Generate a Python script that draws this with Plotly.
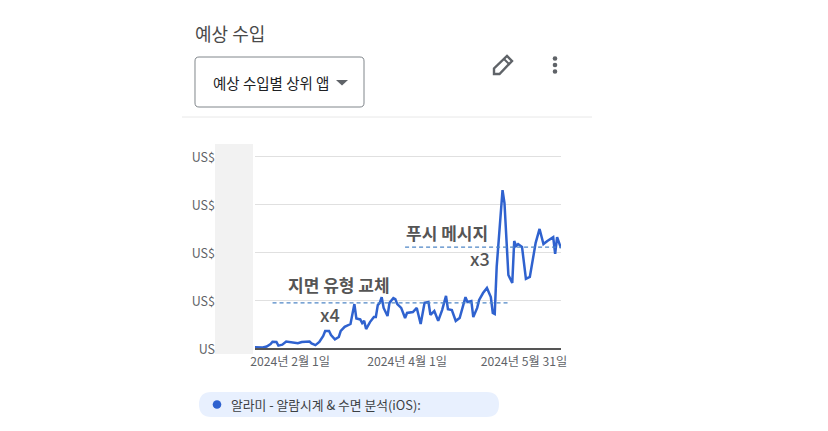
import pandas as pd
import plotly.graph_objects as go

W, H = 828, 431
LEFT, RIGHT, TOP, BOTTOM = 255, 561, 144, 348
FONT = "Noto Sans CJK KR"

start_date = "2024-01-14"
# days since start_date
day_offsets = [0, 2, 4, 6, 8, 9, 11, 12, 14, 16, 18, 21, 22, 24, 26, 28, 29, 31, 33, 35,
               36, 38, 39, 41, 43, 44, 46, 48, 49, 51, 52, 54, 55, 56, 57, 59, 61, 62, 63, 64,
               65, 66, 68, 69, 71, 72, 73, 75, 77, 78, 81, 83, 85, 87, 89, 90, 92, 94, 96, 98,
               99, 101, 103, 105, 107, 108, 109, 111, 112, 114, 115, 117, 119, 121, 122, 123, 124, 125, 127, 128,
               129, 130, 132, 133, 134, 135, 137, 138, 139, 141, 143, 144, 146, 147, 148, 150, 153, 154, 155, 157]
# revenue, in gridline units (the real amounts are hidden in the source)
revenue = [0.015, 0.015, 0.01, 0.03, 0.08, 0.13, 0.125, 0.05, 0.07, 0.135, 0.125, 0.115, 0.10, 0.125, 0.135, 0.135, 0.095, 0.06, 0.125, 0.25,
           0.355, 0.355, 0.27, 0.18, 0.23, 0.355, 0.44, 0.47, 0.5, 0.915, 0.615, 0.595, 0.52, 0.565, 0.395, 0.54, 0.645, 0.645, 0.895, 0.94,
           1.06, 0.835, 0.665, 0.94, 1.04, 1.02, 0.915, 0.835, 0.625, 0.73, 0.75, 0.835, 0.5, 0.94, 0.96, 0.69, 0.77, 0.565, 0.79, 1.085,
           0.81, 0.79, 0.565, 0.625, 0.94, 1.06, 0.96, 0.98, 0.645, 0.835, 1.0, 1.145, 1.25, 1.06, 0.73, 0.71, 1.69, 2.19, 3.29, 3.02,
           2.31, 1.52, 1.355, 2.23, 2.125, 2.165, 2.105, 1.79, 1.44, 1.48, 2.0, 2.19, 2.48, 2.31, 2.165, 2.23, 2.31, 1.96, 2.31, 2.08]
y_ticks = [0, 1, 2, 3, 4]
y_labels = ["US", "US$", "US$", "US$", "US$"]
x_ticks = ["2024-02-01", "2024-04-01", "2024-05-31"]
x_labels = ["2024년 2월 1일", "2024년 4월 1일", "2024년 5월 31일"]

dates = pd.to_datetime(start_date) + pd.to_timedelta(day_offsets, unit="D")


# pixel position on the page -> paper coords
def px(x):
    return (x - LEFT) / (RIGHT - LEFT)


def py(y):
    return (BOTTOM - y) / (BOTTOM - TOP)


def path(points, close=True):
    d = "M " + " L ".join(f"{px(x):.5f},{py(y):.5f}" for x, y in points)
    return d + (" Z" if close else "")


def rounded(x0, y0, x1, y1, r):
    # rounded box in pixels, quadratic corners
    return (f"M {px(x0 + r):.5f},{py(y0):.5f} L {px(x1 - r):.5f},{py(y0):.5f} "
            f"Q {px(x1):.5f},{py(y0):.5f} {px(x1):.5f},{py(y0 + r):.5f} "
            f"L {px(x1):.5f},{py(y1 - r):.5f} Q {px(x1):.5f},{py(y1):.5f} {px(x1 - r):.5f},{py(y1):.5f} "
            f"L {px(x0 + r):.5f},{py(y1):.5f} Q {px(x0):.5f},{py(y1):.5f} {px(x0):.5f},{py(y1 - r):.5f} "
            f"L {px(x0):.5f},{py(y0 + r):.5f} Q {px(x0):.5f},{py(y0):.5f} {px(x0 + r):.5f},{py(y0):.5f} Z")


def shape_path(d, fill="rgba(0,0,0,0)", color="rgba(0,0,0,0)", width=0, layer="above"):
    return dict(type="path", xref="paper", yref="paper", path=d, fillcolor=fill,
                line=dict(color=color, width=width), layer=layer)


def dot(cx, cy, r, color):
    return dict(type="circle", xref="paper", yref="paper", x0=px(cx - r), x1=px(cx + r),
                y0=py(cy + r), y1=py(cy - r), fillcolor=color, line=dict(width=0))


def label(x, y, text, size, color, anchor="left", weight=400):
    return dict(xref="paper", yref="paper", x=px(x), y=py(y), text=text, showarrow=False,
                xanchor=anchor, yanchor="middle", font=dict(family=FONT, size=size, color=color, weight=weight))


fig = go.Figure()
fig.add_trace(go.Scatter(x=dates, y=revenue, mode="lines",
                         line=dict(color="#2f62cf", width=2.5), hoverinfo="skip"))

shapes = [
    # grey block over the hidden axis amounts
    dict(type="rect", xref="paper", yref="paper", x0=px(215), x1=px(253), y0=py(354), y1=py(144),
         fillcolor="#f2f2f2", line=dict(width=0), layer="below"),
    # header separator
    dict(type="line", xref="paper", yref="paper", x0=px(182), x1=px(592), y0=py(117), y1=py(117),
         line=dict(color="#e8e8e8", width=1)),
    # dropdown
    shape_path(rounded(195, 57, 364, 107, 4), color="#80868b", width=1),
    shape_path(path([(336, 80), (348, 80), (342, 85.5)]), fill="#5f6368"),
    # pencil icon
    shape_path(path([(494, 74), (494, 68.5), (507, 56), (512, 61), (499.5, 74)]), color="#5f6368", width=2.4),
    shape_path(path([(504, 59), (509, 64)], close=False), color="#5f6368", width=2),
    # menu dots
    dot(555, 58.5, 2.3, "#5f6368"), dot(555, 65, 2.3, "#5f6368"), dot(555, 71.5, 2.3, "#5f6368"),
    # legend pill
    shape_path(rounded(199, 392, 499, 417, 12.5), fill="#e8f0fe", layer="below"),
    dot(217, 404.5, 4.3, "#2f62cf"),
    # dashed guides
    dict(type="line", xref="x", yref="y", x0="2024-01-23", x1="2024-05-24", y0=0.94, y1=0.94,
         line=dict(color="#4f86c6", width=1.2, dash="4px,3px")),
    dict(type="line", xref="x", yref="y", x0="2024-03-31", x1="2024-06-20", y0=2.1, y1=2.1,
         line=dict(color="#4f86c6", width=1.2, dash="4px,3px")),
]

annotations = [
    label(193, 33, "예상 수입", 18, "#4a4a4a"),
    label(211, 82.5, "예상 수입별 상위 앱", 14.5, "#202124"),
    label(229, 404.5, "알라미 - 알람시계 &amp; 수면 분석(iOS):", 12.8, "#3c4043"),
    label(286, 284, "지면 유형 교체", 17, "#555555", weight=700),
    label(318, 314, "x4", 18, "#555555", weight=500),
    label(404, 232, "푸시 메시지", 17, "#555555", weight=700),
    label(468, 258, "x3", 18, "#555555", weight=500),
]

fig.update_layout(
    width=W, height=H, autosize=False,
    margin=dict(l=LEFT, r=W - RIGHT, t=TOP, b=H - BOTTOM, pad=0),
    paper_bgcolor="white", plot_bgcolor="white",
    showlegend=False, shapes=shapes, annotations=annotations,
    font=dict(family=FONT, size=12, color="#5f6368"),
)
fig.update_xaxes(range=[start_date, "2024-06-19"], tickvals=x_ticks, ticktext=x_labels,
                 showgrid=False, zeroline=False, showline=True, linecolor="#555555", linewidth=1.5,
                 ticks="", ticklabelstandoff=2, tickfont=dict(size=12.2, color="#5f6368"))
# top of the range sits above the last gridline, else plotly drops it
fig.update_yaxes(range=[0, 4.25], tickvals=y_ticks, ticktext=y_labels, showgrid=True,
                 gridcolor="#e0e0e0", gridwidth=1, zeroline=False, showline=False, ticks="",
                 ticklabelstandoff=39, ticklabelshift=2, tickfont=dict(size=12.5, color="#5f6368"))

fig.write_html("out.html", post_script="document.body.style.margin='0';", config=dict(displayModeBar=False))
